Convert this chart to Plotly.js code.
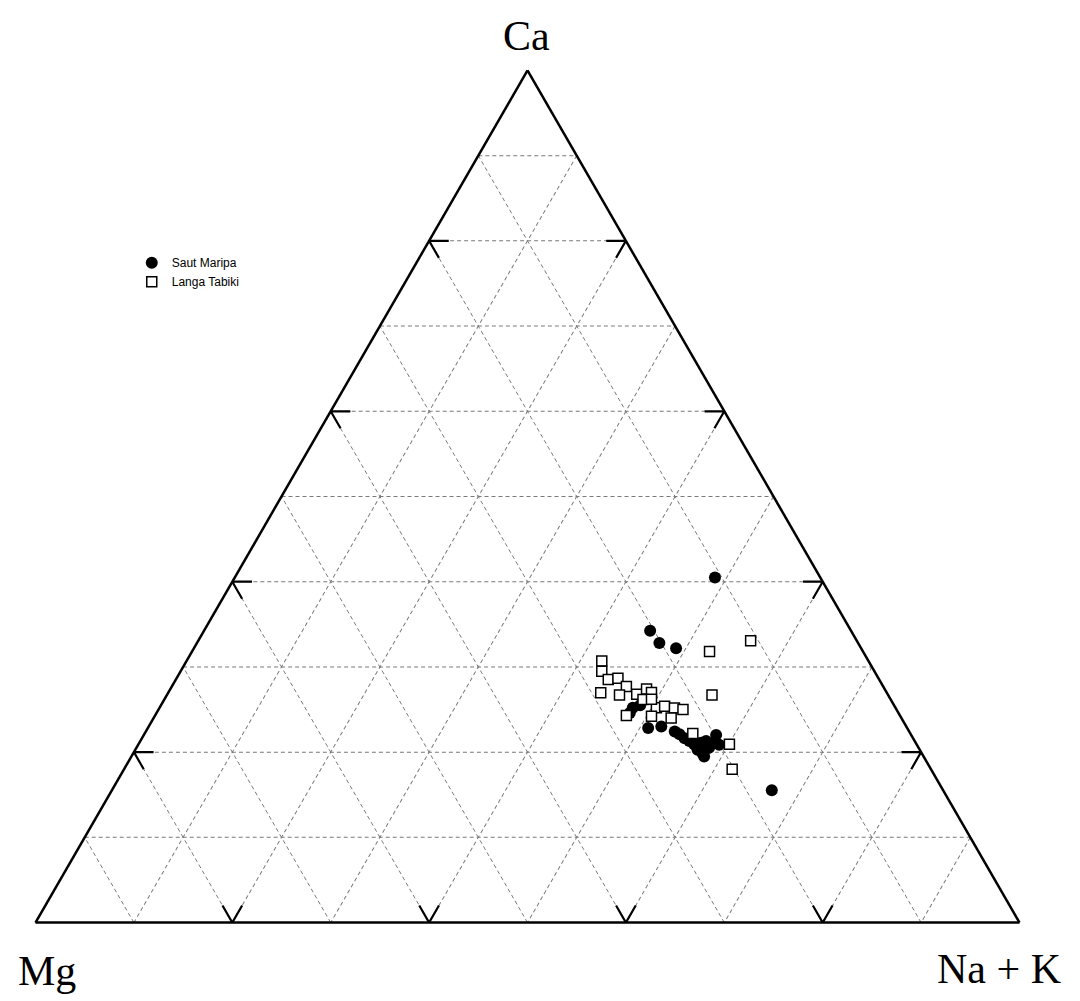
<!DOCTYPE html>
<html><head><meta charset="utf-8">
<script src="https://cdn.plot.ly/plotly-3.0.1.min.js"></script>
<style>html,body{margin:0;padding:0;background:#fff}#chart{width:1080px;height:1001px}</style>
</head><body><div id="chart"></div>
<script>
// Saut Maripa (filled circles) – percentages
const sautCa  = [40.5, 34.2, 32.8, 32.2, 25.2, 24.6, 25.5, 22.8, 23.0, 22.4, 22.1, 21.6, 21.3, 20.9, 20.3, 19.9, 19.5, 20.5, 21.1, 22.0, 20.9, 21.1, 21.3, 15.5];
const sautMg  = [10.7, 20.4, 20.2, 18.8, 26.7, 27.3, 25.8, 26.3, 24.9, 23.8, 23.5, 23.2, 22.9, 22.6, 22.6, 22.3, 22.3, 21.3, 20.5, 19.8, 20.1, 21.8, 21.2, 17.4];
const sautNaK = [48.8, 45.3, 47.0, 49.0, 48.1, 48.1, 48.7, 50.8, 52.1, 53.7, 54.4, 55.1, 55.8, 56.5, 57.2, 57.9, 58.2, 58.2, 58.5, 58.1, 59.1, 57.1, 57.5, 67.0];
// Langa Tabiki (open squares) – percentages
const langaCa  = [33.1, 31.8, 30.7, 29.5, 28.5, 28.7, 27.7, 27.0, 26.7, 26.8, 27.4, 27.0, 26.2, 25.2, 25.4, 25.2, 25.0, 24.3, 24.2, 24.0, 26.7, 22.2, 20.9, 18.0, 26.2];
const langaMg  = [10.8, 15.6, 27.1, 27.7, 27.5, 26.5, 26.1, 29.1, 27.3, 25.5, 24.2, 23.9, 25.2, 24.3, 23.4, 22.5, 21.7, 27.8, 25.3, 23.4, 17.9, 22.1, 19.0, 20.2, 24.3];
const langaNaK = [56.2, 52.6, 42.2, 42.8, 43.9, 44.9, 46.2, 44.0, 46.0, 47.7, 48.4, 49.1, 48.7, 50.5, 51.3, 52.4, 53.3, 47.9, 50.5, 52.6, 55.4, 55.7, 60.0, 61.8, 49.5];
const seriesNames = ['Saut Maripa', 'Langa Tabiki'];
const axisLabels = ['Ca', 'Mg', 'Na + K'];
const arrowLevels = [20, 40, 60, 80];

// arrow stubs at the triangle edges (built from the arrow grid levels)
const stub = 2;
const arA = [], arB = [], arC = [];
function push(a, b, c) { arA.push(a); arB.push(b); arC.push(c); }
arrowLevels.forEach(v => {
  // left edge (c = 0)
  push(v, 100 - v - stub, stub); push(v, 100 - v, 0); push(v - stub, 100 - v, stub); push(null, null, null);
  // right edge (b = 0)
  push(v, stub, 100 - v - stub); push(v, 0, 100 - v); push(v - stub, stub, 100 - v); push(null, null, null);
  // bottom edge (a = 0)
  push(stub, 100 - v - stub, v); push(0, 100 - v, v); push(stub, 100 - v, v - stub); push(null, null, null);
});

const traces = [
  {type: 'scatterternary', mode: 'lines', a: arA, b: arB, c: arC,
   line: {color: '#000', width: 2.2}, showlegend: false, hoverinfo: 'skip', cliponaxis: false},
  {type: 'scatterternary', mode: 'markers', name: seriesNames[0],
   a: sautCa, b: sautMg, c: sautNaK,
   marker: {symbol: 'circle', size: 12, color: '#000', line: {width: 0}}},
  {type: 'scatterternary', mode: 'markers', name: seriesNames[1],
   a: langaCa, b: langaMg, c: langaNaK,
   marker: {symbol: 'square', size: 10, color: '#fff', line: {color: '#000', width: 1.5}}}
];

const axisCommon = {
  showline: true, linecolor: '#000', linewidth: 2.5,
  showgrid: true, gridcolor: '#7a7a7a', gridwidth: 1, griddash: '4px,3px',
  dtick: 10, tick0: 0, ticks: '', showticklabels: false,
  title: {text: ''}
};

const layout = {
  width: 1080, height: 1001,
  margin: {l: 0, r: 0, t: 0, b: 0},
  paper_bgcolor: '#fff',
  hovermode: false,
  showlegend: true,
  legend: {x: 0.122, y: 0.752, xanchor: 'left', yanchor: 'top',
           font: {family: 'Liberation Sans, Arial, sans-serif', size: 12, color: '#000'},
           bgcolor: 'rgba(0,0,0,0)', itemwidth: 30, tracegroupgap: 0},
  ternary: {
    sum: 100,
    bgcolor: '#fff',
    domain: {x: [0.03287, 0.94398], y: [0.0783, 0.9297]},
    aaxis: Object.assign({}, axisCommon),
    baxis: Object.assign({}, axisCommon),
    caxis: Object.assign({}, axisCommon)
  },
  annotations: [
    {text: axisLabels[0], xref: 'paper', yref: 'paper', x: 526/1080, y: 1 - 36/1001, showarrow: false,
     xanchor: 'center', yanchor: 'middle', font: {family: 'Liberation Serif, Times New Roman, serif', size: 42, color: '#000'}},
    {text: axisLabels[1], xref: 'paper', yref: 'paper', x: 47/1080, y: 1 - 971/1001, showarrow: false,
     xanchor: 'center', yanchor: 'middle', font: {family: 'Liberation Serif, Times New Roman, serif', size: 42, color: '#000'}},
    {text: axisLabels[2], xref: 'paper', yref: 'paper', x: 999/1080, y: 1 - 969/1001, showarrow: false,
     xanchor: 'center', yanchor: 'middle', font: {family: 'Liberation Serif, Times New Roman, serif', size: 42, color: '#000'}}
  ]
};

Plotly.newPlot('chart', traces, layout, {displayModeBar: false, staticPlot: true});
</script>
</body></html>
